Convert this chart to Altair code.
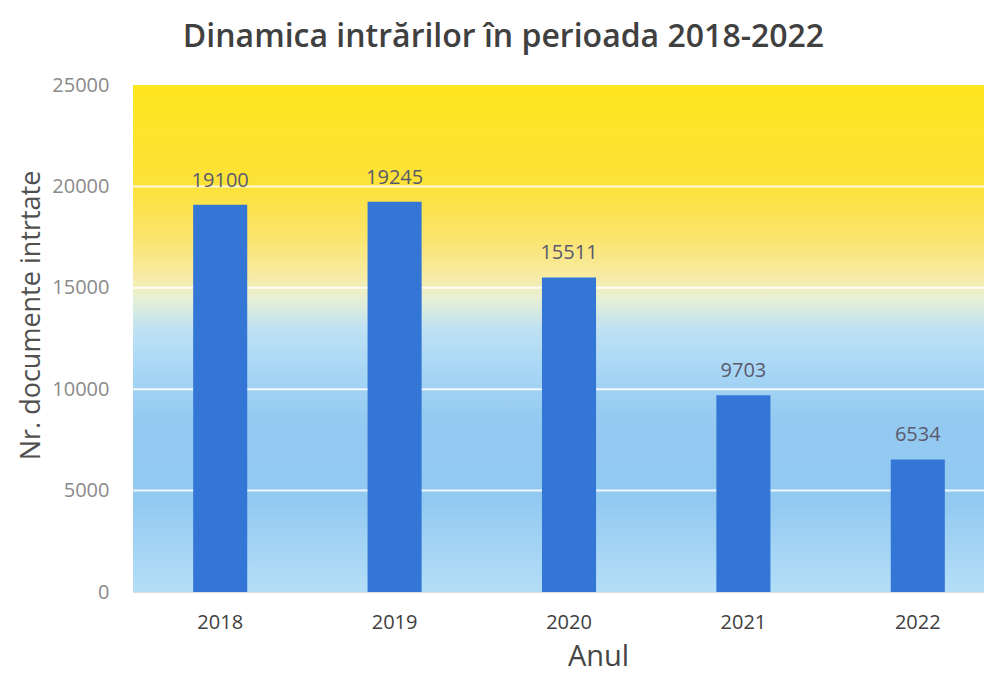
import altair as alt
import pandas as pd

years = ["2018", "2019", "2020", "2021", "2022"]
values = [19100, 19245, 15511, 9703, 6534]
grid_values = [5000, 10000, 15000, 20000]

df = pd.DataFrame({"An": years, "Valoare": values})
grid_df = pd.DataFrame({"g": grid_values})
bg_df = pd.DataFrame({"k": [0]})

W = 851
H = 507
FONT = "Open Sans"

gradient = alt.Gradient(
    gradient="linear",
    x1=0, x2=0, y1=0, y2=1,
    stops=[
        alt.GradientStop(color="#FFE61E", offset=0.0),
        alt.GradientStop(color="#FDE23A", offset=0.2),
        alt.GradientStop(color="#FBE46C", offset=0.3),
        alt.GradientStop(color="#F7EBA6", offset=0.38),
        alt.GradientStop(color="#E8F0D4", offset=0.42),
        alt.GradientStop(color="#BFE2F3", offset=0.48),
        alt.GradientStop(color="#A8D7F5", offset=0.56),
        alt.GradientStop(color="#94CAF1", offset=0.66),
        alt.GradientStop(color="#92C9F1", offset=0.82),
        alt.GradientStop(color="#B4DEF7", offset=1.0),
    ],
)

yscale = alt.Scale(domain=[0, 25000])

background = alt.Chart(bg_df).mark_rect(fill=gradient).encode(
    x=alt.value(0), x2=alt.value(W), y=alt.value(0), y2=alt.value(H)
)

grid = alt.Chart(grid_df).mark_rule(color="#FFFFFF", strokeWidth=2, opacity=0.85).encode(
    y=alt.Y("g:Q", scale=yscale),
    x=alt.value(0),
    x2=alt.value(W),
)

xscale = alt.Scale(range=[0, 872], paddingInner=0.69, paddingOuter=0.345)

base = alt.Chart(df).encode(
    x=alt.X(
        "An:N",
        scale=xscale,
        sort=years,
        axis=alt.Axis(
            title="Anul",
            labelAngle=0,
            domain=False,
            ticks=False,
            labelPadding=20,
            labelFontSize=20,
            labelColor="#404040",
            labelFont=FONT,
            titleFont=FONT,
            titleFontSize=29,
            titleFontWeight="normal",
            titleColor="#454545",
            titleX=465,
            titleY=50,
        ),
    ),
    y=alt.Y(
        "Valoare:Q",
        scale=yscale,
        axis=alt.Axis(
            title="Nr. documente intrtate",
            values=[0, 5000, 10000, 15000, 20000, 25000],
            format="d",
            domain=False,
            ticks=False,
            grid=False,
            labelPadding=24,
            labelFontSize=20,
            labelColor="#8A8A8A",
            labelFont=FONT,
            titleFont=FONT,
            titleFontSize=27,
            titleFontWeight="normal",
            titleColor="#505050",
            titleX=-88,
            titleY=230,
        ),
    ),
)

bars = base.mark_bar(color="#3476D6")
labels = base.mark_text(
    baseline="alphabetic", dy=-18, fontSize=20, font=FONT, color="#5A5A6E"
).encode(text=alt.Text("Valoare:Q", format="d"))

chart = (
    alt.layer(background, grid, bars, labels)
    .properties(
        width=W,
        height=H,
        title=alt.TitleParams(
            "Dinamica intrărilor în perioada 2018-2022",
            font=FONT,
            fontSize=32,
            fontWeight=600,
            color="#404040",
            anchor="middle",
            frame="group",
            dx=-55,
            offset=21,
        ),
        autosize=alt.AutoSizeParams(type="none"),
        padding={"left": 125, "top": 77, "right": 0, "bottom": 85},
    )
    .configure_view(stroke=None)
    .configure(background="#FFFFFF")
)

chart.save("out.html", embed_options={"renderer": "svg", "actions": False})
